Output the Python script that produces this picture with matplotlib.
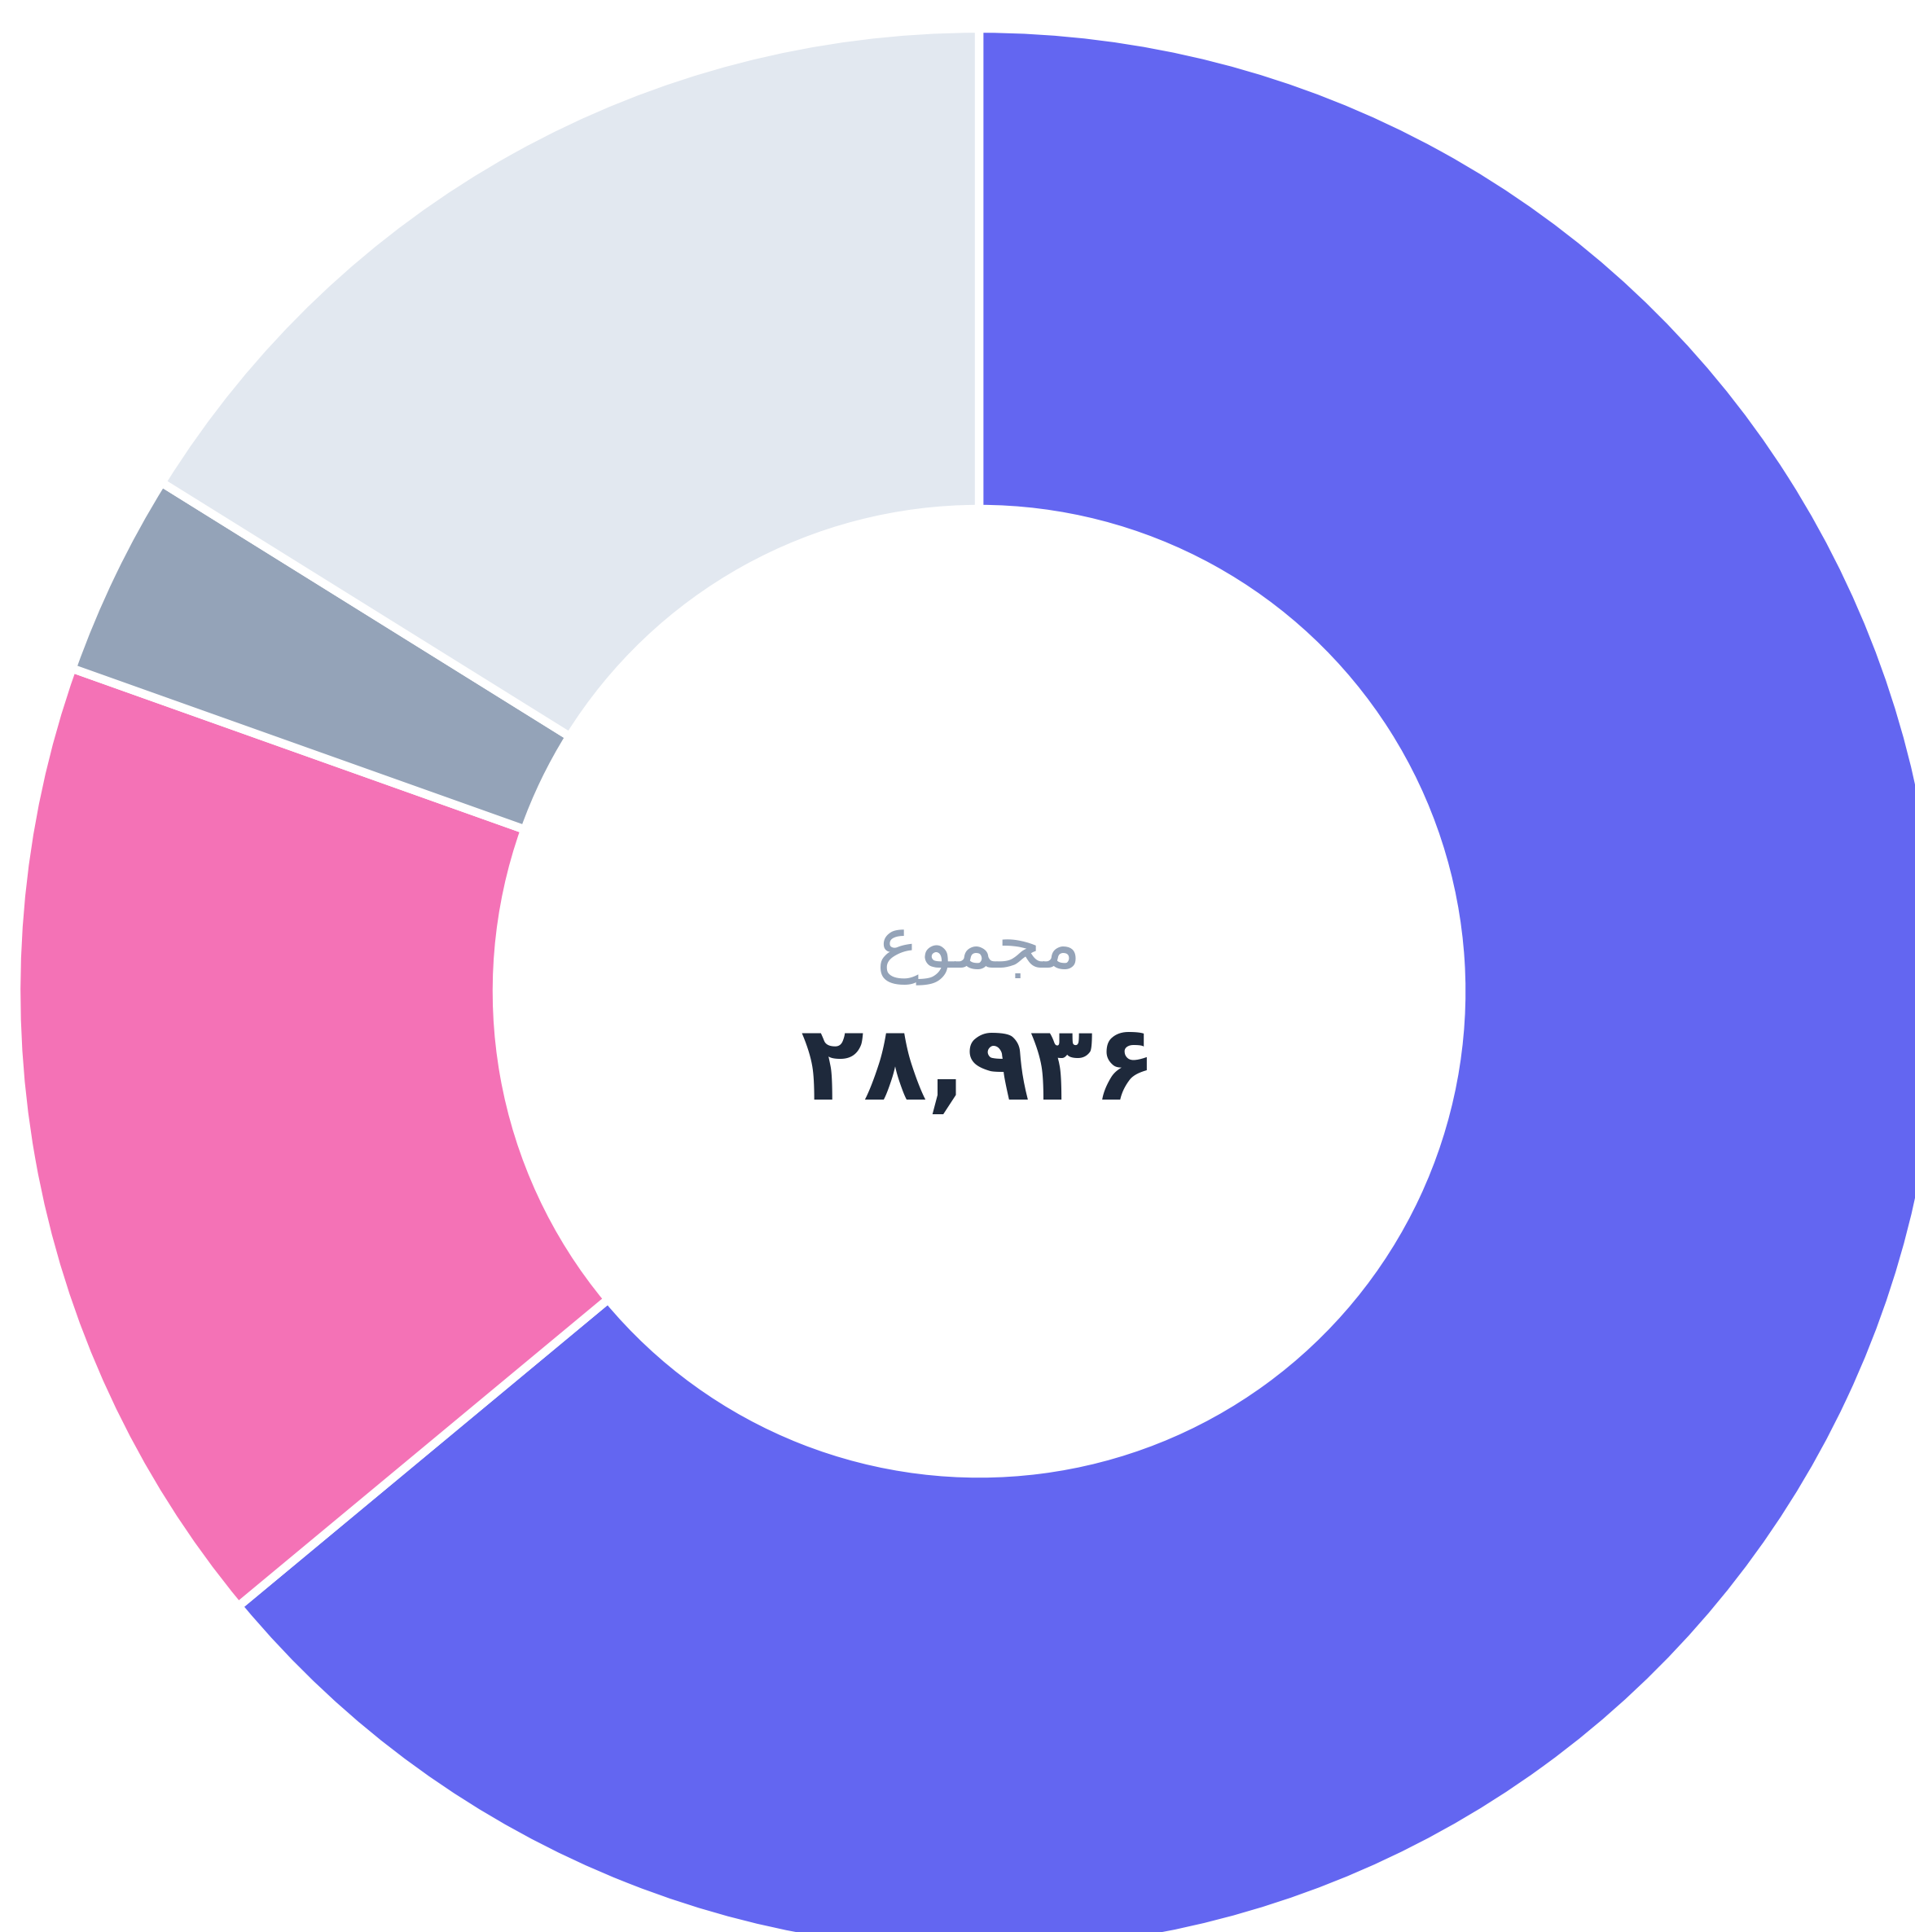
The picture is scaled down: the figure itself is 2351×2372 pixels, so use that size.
import matplotlib
matplotlib.use("Agg")
import matplotlib.pyplot as plt

categories = ["الف", "ب", "ج", "د"]
values = [18511, 4766, 989, 4670]
colors = ["#6366f1", "#f472b6", "#94a3b8", "#e2e8f0"]
total_label = "\uFEC9\uFEEE\uFEE4\uFEA0\uFEE3"   # "مجموع" shaped, visual order
total_value = "۲۸,۹۳۶"

W, H = 2351, 2372
fig = plt.figure(figsize=(W / 100, H / 100), dpi=100)
fig.patch.set_facecolor("white")
ax = fig.add_axes([0, 0, 1, 1])

cx, cy = 1202, H - 1217
R_out = 1182
R_in = 592

ax.pie(values, colors=colors, startangle=90, counterclock=False,
       center=(cx, cy), radius=R_out,
       wedgeprops=dict(width=R_out - R_in, edgecolor="white", linewidth=7.5),
       frame=True)
ax.set_xlim(0, W)
ax.set_ylim(0, H)
ax.set_aspect("equal")
ax.axis("off")

ax.text(cx, H - 1168, total_label, ha="center", va="center",
        fontsize=63, color="#94a3b8", family=["DejaVu Sans"])
ax.text(cx, H - 1315, total_value, ha="center", va="center",
        fontsize=92, fontweight="bold", color="#1e293b", family=["DejaVu Sans"])

fig.savefig("out.png", dpi=100, facecolor="white")
